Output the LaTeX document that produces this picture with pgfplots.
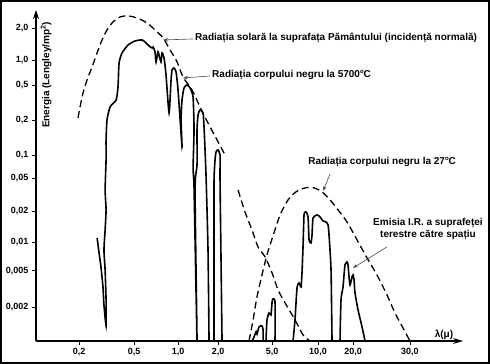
\documentclass[border=0pt]{standalone}
\usepackage{fontspec}
\setmainfont{Liberation Sans}
\usepackage{pgfplots}
\pgfplotsset{compat=1.18}
\usetikzlibrary{arrows.meta}
\newcommand\annfont{\bfseries\fontsize{10}{12}\selectfont}
\newcommand\degsym{\raisebox{0.75ex}{\fontsize{6}{6}\selectfont o}}
\begin{document}
\begin{tikzpicture}
\begin{axis}[
  at={(0,0)}, anchor=south west,
  scale only axis, width=427pt, height=331pt,
  xmode=log, ymode=log,
  xmin=0.097, xmax=127, ymin=0.00086, ymax=3.12,
  axis lines=left,
  axis line style={line width=1.1pt},
  x axis line style={-{Stealth[length=10pt,width=6pt]}},
  y axis line style={-{Stealth[length=9pt,width=6pt]}},
  xtick={0.2,0.504,1.056,2.068,5.13,11.1,20.0,52.1},
  xticklabels={{0,2},{0,5},{1,0},{2,0},{5,0},{10,0},{20,0},{30,0}},
  ytick={2.0,0.906,0.488,0.205,0.0862,0.0488,0.0215,0.0100,0.00488,0.0020},
  yticklabels={{2,0},{1,0},{0,5},{0,2},{0,1},{0,05},{0,02},{0,01},{0,005},{0,002}},
  xminorticks=false, yminorticks=false,
  tick align=outside,
  major tick length=4pt,
  tick style={line width=0.8pt, black},
  tick label style={font=\bfseries\fontsize{9}{10}\selectfont},
  clip=false,
]
% solar spectrum at ground (solid)
\addplot[black, line width=1.6pt, smooth, tension=0.35] coordinates {
(0.271,0.0110) (0.280,0.00761) (0.289,0.00538) (0.299,0.00328) (0.304,0.00210)
(0.315,0.00125) (0.315,0.00238) (0.310,0.00500) (0.304,0.00820) (0.310,0.01346)
(0.315,0.0221) (0.310,0.0362) (0.315,0.0762) (0.315,0.125) (0.320,0.205)
(0.337,0.283) (0.373,0.336) (0.385,0.464) (0.392,0.841) (0.412,1.077)
(0.456,1.313) (0.513,1.449) (0.577,1.486) (0.617,1.379) (0.649,1.281)
(0.682,1.219) (0.694,1.250) (0.717,1.104) (0.730,0.862) (0.754,1.104)
(0.767,1.025) (0.793,0.862) (0.807,1.077) (0.835,0.952) (0.863,0.625)
(0.908,0.244) (0.939,0.552) (0.955,0.707) (0.987,0.743) (1.021,0.673)
(1.056,0.431) (1.129,0.105) (1.111,0.205) (1.129,0.336) (1.168,0.453)
(1.228,0.488) (1.292,0.453) (1.359,0.362) (1.382,0.160) (1.359,0.0594)
(1.382,0.0381) (1.453,0.00086) (1.405,0.0362) (1.453,0.0673) (1.453,0.160)
(1.478,0.232) (1.528,0.263) (1.607,0.244) (1.635,0.172) (1.690,0.0525)
(1.748,0.0082) (1.778,0.00086)
};
\addplot[black, line width=1.6pt, smooth, tension=0.35] coordinates {
(1.934,0.00086) (1.934,0.0105) (1.934,0.0464) (1.967,0.0762) (2.00,0.0928)
(2.068,0.0975) (2.139,0.0862) (2.139,0.0464) (2.175,0.0064) (2.212,0.00086)
};
% IR emission of the earth surface (solid)
\addplot[black, line width=1.6pt, smooth, tension=0.35] coordinates {
(3.66,0.00086) (3.79,0.000952) (3.92,0.00108) (3.98,0.00102) (4.12,0.00122)
(4.33,0.00125) (4.41,0.00113) (4.41,0.00086)
};
\addplot[black, line width=1.6pt, smooth, tension=0.35] coordinates {
(4.63,0.00086) (4.71,0.00145) (4.87,0.00172) (5.04,0.00164) (5.13,0.00226)
(5.21,0.00244) (5.39,0.00226) (5.39,0.00086)
};
\addplot[black, line width=1.6pt, smooth, tension=0.35] coordinates {
(7.30,0.00086) (7.54,0.00145) (7.80,0.00320) (8.07,0.00362) (8.35,0.00328)
(8.49,0.00476) (8.63,0.00884) (8.78,0.0195) (9.08,0.0210) (9.39,0.0186)
(9.55,0.0105) (9.87,0.00976) (10.04,0.0119) (10.21,0.0181) (10.92,0.0195)
(11.48,0.0186) (12.08,0.0168) (12.70,0.0164) (13.14,0.0152) (13.36,0.0119)
(13.82,0.0050) (14.05,0.00086)
};
\addplot[black, line width=1.6pt, smooth, tension=0.35] coordinates {
(16.07,0.00086) (16.34,0.00238) (16.91,0.00328) (17.19,0.00442) (17.48,0.00566)
(18.08,0.00609) (18.39,0.00566) (18.70,0.00420) (19.02,0.00345) (19.67,0.00420)
(20.0,0.00442) (20.34,0.00390) (20.68,0.00283) (21.75,0.00186) (23.27,0.00122)
(24.47,0.00086)
};
% black body 5700 C (dashed)
\addplot[black, line width=1.3pt, dash pattern=on 7pt off 4pt, smooth] coordinates {
(0.1967,0.2155) (0.2034,0.283) (0.2139,0.400) (0.2288,0.552) (0.2489,0.761)
(0.2707,1.077) (0.2945,1.486) (0.320,1.903) (0.354,2.320) (0.398,2.626)
(0.456,2.692) (0.530,2.561) (0.627,2.264) (0.717,1.903) (0.821,1.562)
(0.923,1.160) (1.039,0.862) (1.148,0.594) (1.336,0.431) (1.528,0.283)
(1.748,0.190) (2.034,0.125) (2.327,0.0862)
};
\addplot[black, line width=1.3pt, dash pattern=on 7pt off 4pt, smooth] coordinates {
(2.895,0.0362) (3.256,0.0210) (3.662,0.01346) (4.05,0.00884) (4.56,0.00690)
(5.13,0.00464) (5.67,0.00305) (6.38,0.00221) (7.54,0.00145) (8.63,0.00100)
(9.71,0.00086)
};
% black body 27 C (dashed)
\addplot[black, line width=1.3pt, dash pattern=on 7pt off 4pt, smooth] coordinates {
(3.48,0.00086) (3.73,0.00145) (3.98,0.00256) (4.33,0.00442) (4.71,0.00725)
(5.21,0.0116) (5.87,0.0195) (6.71,0.0283) (7.67,0.0345) (8.93,0.0381)
(10.39,0.0381) (11.88,0.0345) (13.59,0.0283) (15.54,0.0221) (18.08,0.0164)
(21.4,0.01051) (25.3,0.00673) (29.9,0.00442) (35.4,0.00269) (40.5,0.00172)
(46.3,0.00119) (52.1,0.00086)
};
% annotations
\node[anchor=west, font=\annfont, inner sep=0pt] at (axis cs:1.405,1.562)
  {Radiația solară la suprafața Pământului (incidență normală)};
\node[anchor=west, font=\annfont, inner sep=0pt] at (axis cs:1.870,0.625)
  {Radiația corpului negru la 5700\degsym C};
\node[font=\annfont, inner sep=0pt] at (axis cs:32.6,0.0725)
  {Radiația corpului negru la 27\degsym C};
\node[font=\annfont, inner sep=0pt, align=center] at (axis cs:70.5,0.0138)
  {Emisia I.R. a suprafeței\\terestre către spațiu};
\node[font=\annfont, inner sep=0pt] at (axis cs:92.3,0.00100) {λ(μ)};
\node[font=\annfont, inner sep=0pt, rotate=90] at (axis cs:0.115,0.625)
  {Energia (Lengley/mp\textsuperscript{2})};
\draw[gray!60!black, line width=0.6pt, -{Stealth[length=5pt,width=3.5pt]}]
  (axis cs:1.359,1.523) -- (axis cs:0.821,1.486);
\draw[gray!60!black, line width=0.6pt, -{Stealth[length=5pt,width=3.5pt]}]
  (axis cs:1.808,0.609) -- (axis cs:1.148,0.580);
\draw[gray!60!black, line width=0.6pt, -{Stealth[length=5pt,width=3.5pt]}]
  (axis cs:13.59,0.0538) -- (axis cs:12.08,0.0353);
\draw[gray!60!black, line width=0.6pt, -{Stealth[length=5pt,width=3.5pt]}]
  (axis cs:35.4,0.00884) -- (axis cs:20.0,0.00525);
\end{axis}
\draw[line width=2pt] (-35pt,-22pt) rectangle (453pt,340pt);
\pgfresetboundingbox
\useasboundingbox (-36pt,-23pt) rectangle (454pt,341pt);
\end{tikzpicture}
\end{document}
